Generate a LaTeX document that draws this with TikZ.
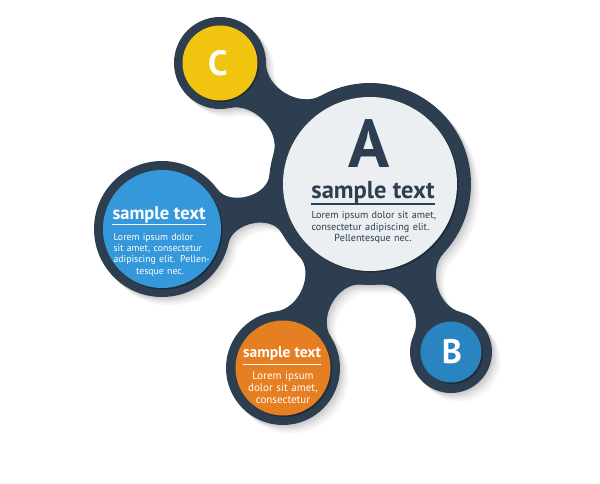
\documentclass[tikz,border=0pt]{standalone}
\usepackage{fontspec}
\setmainfont{PT Sans}
\usepackage{tikz}
\usetikzlibrary{calc}

\definecolor{navy}{HTML}{2C3E50}
\definecolor{paper}{HTML}{ECEFF1}
\definecolor{skyblue}{HTML}{3498DB}
\definecolor{oceanblue}{HTML}{2A84C0}
\definecolor{tangerine}{HTML}{E67E22}
\definecolor{sunflower}{HTML}{F1C40F}

% neck between two discs: from, to, direction, spread on from, spread on to, colour
\newcommand\neck[6]{%
  \pgfmathtruncatemacro\nA{#3+#4}%
  \pgfmathtruncatemacro\nB{#3+180-#5}%
  \pgfmathtruncatemacro\nC{#3+180+#5}%
  \pgfmathtruncatemacro\nD{#3-#4}%
  \pgfmathtruncatemacro\oA{#3+#4-90}%
  \pgfmathtruncatemacro\iA{#3+270-#5}%
  \pgfmathtruncatemacro\oB{#3+90+#5}%
  \pgfmathtruncatemacro\iB{#3+90-#4}%
  \fill[#6] (#1.center) -- (#1.\nA) to[out=\oA, in=\iA] (#2.\nB) -- (#2.center)
    -- (#2.\nC) to[out=\oB, in=\iB] (#1.\nD) -- cycle;
}
% the whole dark shape
\newcommand\blob[1]{%
  \fill[#1] (A.center) circle (101) (B.center) circle (41) (C.center) circle (46)
    (blue.center) circle (68) (orange.center) circle (57);
  \neck{C}{A}{-39}{39}{22}{#1}
  \neck{blue}{A}{12}{24}{17}{#1}
  \neck{orange}{A}{65}{32}{20}{#1}
  \neck{B}{A}{116}{40}{21}{#1}
}

\begin{document}
\begin{tikzpicture}[x=1pt, y=1pt,
    disc/.style={circle, inner sep=0pt, outer sep=0pt, minimum size=#1},
    head/.style={font=\bfseries\fontsize{#1}{#1}\selectfont, inner sep=0pt, anchor=base},
    blurb/.style={inner sep=0pt, anchor=north, align=center, text width=#1},
    uline/.style={line width=#1}]
    \useasboundingbox (0,0) rectangle (600,483);

    % Define the hub and the satellites
    \node[disc=202pt] (A)      at (370,299) {};
    \node[disc=82pt]  (B)      at (451,131) {};
    \node[disc=92pt]  (C)      at (220,420) {};
    \node[disc=136pt] (blue)   at (162,254) {};
    \node[disc=114pt] (orange) at (283,115) {};

    % Soft shadow, then the dark shape
    \foreach \k/\g in {8/2,7/4,6/6,5/8,4/11,3/14,2/17,1/20}
      {\begin{scope}[transform canvas={shift={(\k*1.1pt,-\k*1.1pt)}}]
        \blob{black!\g}
      \end{scope}}
    \blob{navy}

    % Inner discs
    \foreach \n/\r in {A/87, B/30.5, C/37.5, blue/59, orange/47.5}
      \fill[navy!70!black] ([shift={(1.5,-1.5)}]\n.center) circle (\r);
    \node[disc=174pt, fill=paper]     (A-in)      at (A) {};
    \node[disc=61pt,  fill=oceanblue] (B-in)      at (B) {};
    \node[disc=75pt,  fill=sunflower] (C-in)      at (C) {};
    \node[disc=118pt, fill=skyblue]   (blue-in)   at (blue) {};
    \node[disc=95pt,  fill=tangerine] (orange-in) at (orange) {};

    % Letters
    \node[inner sep=0pt, text=navy, font=\bfseries\fontsize{68}{68}\selectfont] (A-letter) at (369,339) {A};
    \node[inner sep=0pt, text=white, font=\bfseries\fontsize{35}{35}\selectfont] (C-letter) at (218,420) {C};
    \node[inner sep=0pt, text=white, font=\bfseries\fontsize{34}{34}\selectfont] (B-letter) at (452,131) {B};

    % Hub text
    \node[head=24.5, text=navy] (A-head) at (373,284.7) {sample text};
    \draw[uline=2pt, navy] ([yshift=-6]A-head.base west) -- ([yshift=-6]A-head.base east);
    \node[blurb=123pt, text=navy, font=\fontsize{10.2}{11.7}\selectfont] (A-body) at (373,272)
      {\makebox[\hsize][s]{Lorem ipsum dolor sit amet,}\\
       \makebox[\hsize][s]{consectetur adipiscing elit.}\\
       Pellentesque nec.};

    % Blue text
    \node[head=18.5, text=white] (blue-head) at (159,263.7) {sample text};
    \draw[uline=1pt, white] ([yshift=-5.5]blue-head.base west) -- ([yshift=-5.5]blue-head.base east);
    \node[blurb=93pt, text=white, font=\fontsize{9.8}{11.4}\selectfont] (blue-body) at (160,250)
      {\makebox[\hsize][s]{Lorem ipsum dolor}\\
       \makebox[\hsize][s]{sit amet, consectetur}\\
       \makebox[\hsize][s]{adipiscing elit. Pellen-}\\
       tesque nec.};

    % Orange text
    \node[head=15.5, text=white] (orange-head) at (282,125.3) {sample text};
    \draw[uline=1pt, white] ([yshift=-7]orange-head.base west) -- ([yshift=-7]orange-head.base east);
    \node[blurb=80pt, text=white, font=\fontsize{11}{12}\selectfont] (orange-body) at (283,111.5)
      {Lorem ipsum\\ dolor sit amet,\\ consectetur};
\end{tikzpicture}
\end{document}
